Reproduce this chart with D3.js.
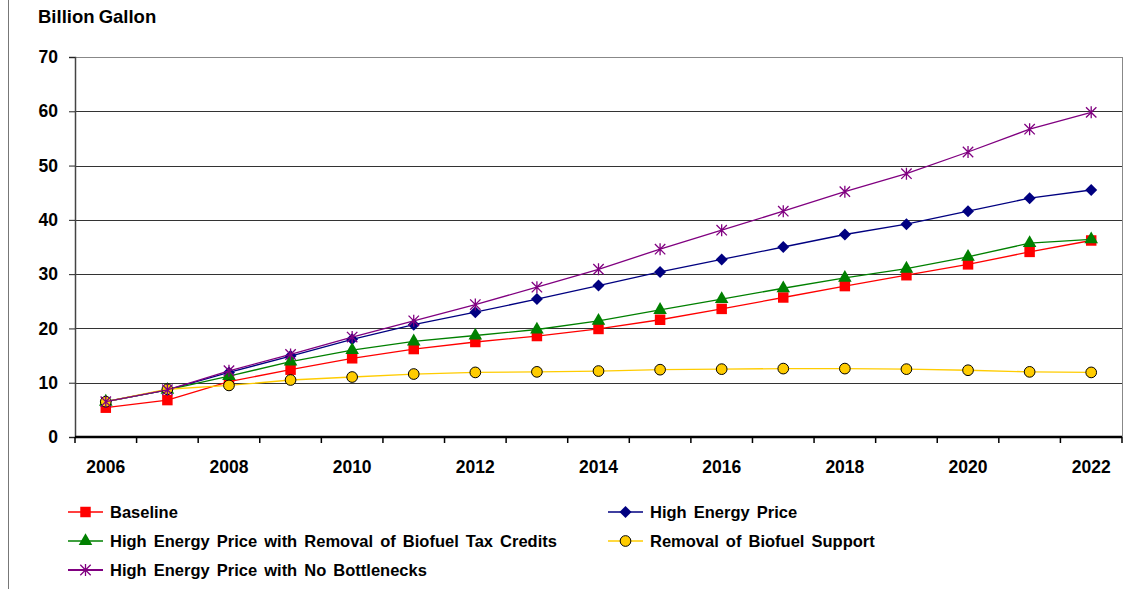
<!DOCTYPE html>
<html>
<head>
<meta charset="utf-8">
<script src="https://cdn.jsdelivr.net/npm/d3@7"></script>
<style>
  body { margin: 0; background: #fff; }
  text { font-family: "Liberation Sans", Arial, sans-serif; font-weight: bold; }
</style>
</head>
<body>
<div id="chart"></div>
<script>
// data
var years = d3.range(2006, 2023);
var baseline = [5.4, 6.8, 10.2, 12.4, 14.5, 16.2, 17.5, 18.6, 19.9, 21.6, 23.6, 25.7, 27.8, 29.8, 31.8, 34.1, 36.2];
var highEnergy = [6.5, 8.7, 11.9, 14.9, 18.0, 20.7, 23.0, 25.4, 27.9, 30.4, 32.7, 35.0, 37.3, 39.2, 41.6, 44.0, 45.5];
var highEnergyNoCredits = [6.5, 8.7, 11.2, 13.9, 16.0, 17.6, 18.7, 19.8, 21.4, 23.4, 25.4, 27.4, 29.3, 31.0, 33.2, 35.7, 36.4];
var removalSupport = [6.5, 8.8, 9.5, 10.5, 11.05, 11.6, 11.9, 12.0, 12.15, 12.4, 12.5, 12.6, 12.6, 12.5, 12.3, 12.0, 11.9];
var noBottlenecks = [6.5, 8.7, 12.2, 15.2, 18.4, 21.4, 24.4, 27.6, 30.9, 34.6, 38.1, 41.6, 45.2, 48.5, 52.5, 56.7, 59.8];
var yTicks = [0, 10, 20, 30, 40, 50, 60, 70];
var xLabels = [2006, 2008, 2010, 2012, 2014, 2016, 2018, 2020, 2022];

var series = [
    { name: "Baseline", values: baseline, color: "#ff0000", marker: "square" },
    { name: "High Energy Price", values: highEnergy, color: "#000080", marker: "diamond" },
    { name: "High Energy Price with Removal of Biofuel Tax Credits", values: highEnergyNoCredits, color: "#008000", marker: "triangle" },
    { name: "Removal of Biofuel Support", values: removalSupport, color: "#ffcc00", marker: "circle" },
    { name: "High Energy Price with No Bottlenecks", values: noBottlenecks, color: "#800080", marker: "star" }
];

var svgWidth = 1144;
var svgHeight = 589;
var margin = { top: 57, right: 22, bottom: 152, left: 75 };
var chartWidth = svgWidth - margin.left - margin.right;
var chartHeight = svgHeight - margin.top - margin.bottom;

var svg = d3.select("#chart")
    .append("svg")
    .attr("width", svgWidth)
    .attr("height", svgHeight);

// frame line on the left edge
svg.append("line")
    .attr("x1", 8.5).attr("x2", 8.5)
    .attr("y1", 0).attr("y2", svgHeight)
    .attr("stroke", "#777")
    .attr("stroke-width", 1);

svg.append("text")
    .attr("x", 38)
    .attr("y", 23)
    .attr("font-size", 18.5)
    .attr("word-spacing", -1)
    .text("Billion Gallon");

var chartGroup = svg.append("g")
    .attr("transform", `translate(${margin.left}, ${margin.top})`);

var xBand = d3.scaleBand()
    .domain(years)
    .range([0, chartWidth]);

var yLinearScale = d3.scaleLinear()
    .domain([0, 70])
    .range([chartHeight, 0]);

// gridlines
chartGroup.append("g")
    .selectAll("line")
    .data(yTicks.filter(d => d > 0))
    .enter().append("line")
    .attr("x1", 0)
    .attr("x2", chartWidth)
    .attr("y1", d => Math.round(yLinearScale(d)) + 0.5)
    .attr("y2", d => Math.round(yLinearScale(d)) + 0.5)
    .attr("stroke", d => d === 70 ? "#888" : "#333")
    .attr("stroke-width", 1.2);

// right border
chartGroup.append("line")
    .attr("x1", chartWidth + 0.5).attr("x2", chartWidth + 0.5)
    .attr("y1", 0).attr("y2", chartHeight)
    .attr("stroke", "#888");

// y axis
var leftAxis = d3.axisLeft(yLinearScale)
    .tickValues(yTicks)
    .tickSize(6)
    .tickPadding(11);

var yAxis = chartGroup.append("g")
    .call(leftAxis);
yAxis.select(".domain").attr("stroke", "#444").attr("stroke-width", 1.5);
yAxis.selectAll(".tick line").attr("stroke", "#222");
yAxis.selectAll("text")
    .attr("font-size", 17.5)
    .attr("font-family", "Liberation Sans, Arial, sans-serif")
    .attr("font-weight", "bold")
    .attr("fill", "#000");

// x axis: ticks at category boundaries, labels every second year
var xAxis = chartGroup.append("g")
    .attr("transform", `translate(0,${chartHeight})`);

xAxis.append("line")
    .attr("x1", 0).attr("x2", chartWidth)
    .attr("y1", 0).attr("y2", 0)
    .attr("stroke", "#000")
    .attr("stroke-width", 2.5);

xAxis.selectAll(".xtick")
    .data(years.concat([2023]))
    .enter().append("line")
    .attr("class", "xtick")
    .attr("x1", d => d === 2023 ? chartWidth : xBand(d))
    .attr("x2", d => d === 2023 ? chartWidth : xBand(d))
    .attr("y1", 0).attr("y2", 6)
    .attr("stroke", "#000")
    .attr("stroke-width", 1.5);

xAxis.selectAll(".xlabel")
    .data(xLabels)
    .enter().append("text")
    .attr("class", "xlabel")
    .attr("x", d => xBand(d) + xBand.bandwidth() / 2)
    .attr("y", 36)
    .attr("text-anchor", "middle")
    .attr("font-size", 17.5)
    .text(d => d);

function markerPath(type) {
    if (type === "square") return d3.symbol(d3.symbolSquare, 110)();
    if (type === "diamond") return "M0,-6L6,0L0,6L-6,0Z";
    if (type === "triangle") return d3.symbol(d3.symbolTriangle, 80)();
    if (type === "circle") return d3.symbol(d3.symbolCircle, 90)();
    return "M0,-6V6M-5.2,-5.2L5.2,5.2M-5.2,5.2L5.2,-5.2";
}

function drawMarker(g, s) {
    var p = g.append("path").attr("d", markerPath(s.marker));
    if (s.marker === "circle") {
        p.attr("fill", s.color).attr("stroke", "#000").attr("stroke-width", 1);
    } else if (s.marker === "star") {
        p.attr("fill", "none").attr("stroke", s.color).attr("stroke-width", 1.3);
    } else {
        p.attr("fill", s.color);
    }
    return p;
}

var line = d3.line()
    .x((d, i) => xBand(years[i]) + xBand.bandwidth() / 2)
    .y(d => yLinearScale(d));

series.forEach(function (s) {
    var g = chartGroup.append("g");
    g.append("path")
        .attr("d", line(s.values))
        .attr("fill", "none")
        .attr("stroke", s.color)
        .attr("stroke-width", 1.3);
    s.values.forEach(function (v, i) {
        var m = g.append("g")
            .attr("transform", `translate(${xBand(years[i]) + xBand.bandwidth() / 2},${yLinearScale(v)})`);
        drawMarker(m, s);
    });
});

// legend
var legendPos = [
    { x: 68, y: 512 },
    { x: 608, y: 512 },
    { x: 68, y: 541 },
    { x: 608, y: 541 },
    { x: 68, y: 570 }
];

series.forEach(function (s, i) {
    var lg = svg.append("g")
        .attr("transform", `translate(${legendPos[i].x},${legendPos[i].y})`);
    lg.append("line")
        .attr("x1", 0).attr("x2", 35)
        .attr("y1", 0).attr("y2", 0)
        .attr("stroke", s.color)
        .attr("stroke-width", s.marker === "star" ? 2 : 1.3);
    var m = lg.append("g").attr("transform", "translate(17.5,0)");
    drawMarker(m, s);
    lg.append("text")
        .attr("x", 42)
        .attr("y", 6)
        .attr("font-size", 16.5)
        .attr("word-spacing", 2.5)
        .text(s.name);
});
</script>
</body>
</html>
